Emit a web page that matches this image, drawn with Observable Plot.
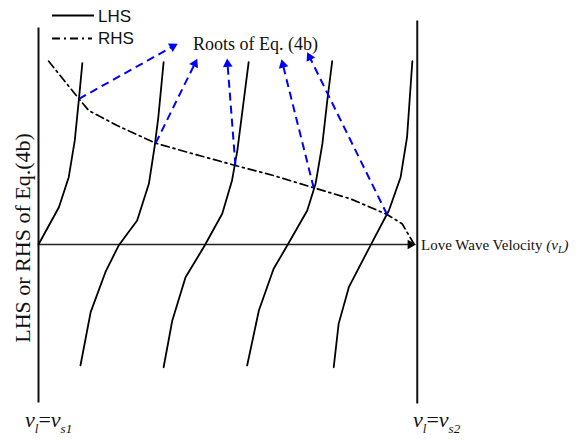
<!DOCTYPE html>
<html><head><meta charset="utf-8">
<script src="https://cdn.jsdelivr.net/npm/d3@7"></script>
<script src="https://cdn.jsdelivr.net/npm/@observablehq/plot@0.6"></script>
<style>body{margin:0;background:#fff} #chart{width:583px;height:440px}</style>
</head><body><div id="chart"></div>
<script>
// x: 0 = v_s1, 100 = v_s2 ; y: arbitrary units, 0 on the velocity axis
const lhs1X = [0, 5.4, 8.0, 9.6, 10.7, 11.6];
const lhs1Y = [0, 20.7, 37.4, 57.8, 80.9, 100.7];
const lhs2X = [11.1, 13.8, 17.7, 21.2, 26.1, 29.2, 30.7, 31.7, 33.1];
const lhs2Y = [-67.2, -37.6, -15.4, -0.6, 13.3, 33.7, 54.1, 70.7, 101.3];
const lhs3X = [33.1, 35.4, 38.9, 43.7, 48.6, 51.2, 52.6, 54.3, 55.6];
const lhs3Y = [-68.2, -42.2, -18.2, -1.5, 17.1, 35.6, 52.2, 80, 101.3];
const lhs4X = [55.2, 58.3, 62.2, 65.8, 71.1, 73.3, 75.1, 76.4, 77.7];
const lhs4Y = [-67.2, -36.7, -13.5, -0.6, 18.9, 33.7, 55.9, 80, 101.8];
const lhs5X = [78.1, 79.4, 82.1, 87.8, 92.7, 95.8, 97.5, 98.9];
const lhs5Y = [-68.2, -44.1, -23.7, -0.6, 18.9, 37.4, 59.6, 101.8];
const rhsX = [2.7, 10.7, 13.3, 20.8, 31.0, 39.3, 52.1, 62.2, 72.8, 82.5, 92.2, 96.2, 99.3];
const rhsY = [101.8, 80.9, 74.4, 66.1, 56.3, 51.3, 43.9, 38.3, 31.5, 25.4, 16.7, 11.5, 0.4];
// roots (intersections) and where their pointer arrows end
const rootX = [10.7, 31.0, 52.1, 72.8, 92.2];
const rootY = [80.9, 56.3, 43.9, 31.5, 16.7];
const tipX = [36.8, 42.0, 49.9, 64.3, 71.1];
const tipY = [111.5, 103.2, 103.3, 102.8, 106.8];
// bounding velocity lines v_l = v_s1 and v_l = v_s2
const boundX = [0, 100.2];
const boundTop = [120.6, 124.4];
const boundBottom = [-87.8, -88.3];
const axisEnd = 100;

const X0 = 38, X1 = 416, Y0 = 424, Y1 = 64;
const kx = (X1 - X0) / 100, ky = (Y0 - Y1) / 200;

const lhs = [[lhs1X, lhs1Y], [lhs2X, lhs2Y], [lhs3X, lhs3Y], [lhs4X, lhs4Y], [lhs5X, lhs5Y]]
  .flatMap(([xs, ys], k) => xs.map((x, i) => ({k, x, y: ys[i]})));
const rhs = rhsX.map((x, i) => ({x, y: rhsY[i]}));
const arrows = rootX.map((x, i) => {
  const dx = (tipX[i] - x) * kx, dy = -(tipY[i] - rootY[i]) * ky;
  const len = Math.hypot(dx, dy), back = 5.5;
  return {
    x1: x, y1: rootY[i], x2: tipX[i], y2: tipY[i],
    hx: tipX[i] - back * dx / len / kx, hy: tipY[i] + back * dy / len / ky,
    rot: Math.atan2(dx, -dy) * 180 / Math.PI
  };
});
const bounds = boundX.map((x, i) => ({x, t: boundTop[i], b: boundBottom[i]}));

const plot = Plot.plot({
  width: 583, height: 440, margin: 0,
  x: {domain: [0, 100], range: [X0, X1], axis: null},
  y: {domain: [-100, 100], range: [Y0, Y1], axis: null},
  marks: [
    Plot.link(bounds, {x1: "x", x2: "x", y1: "b", y2: "t", stroke: "#111", strokeWidth: 2}),
    Plot.link([{a: 0, b: axisEnd - 2}], {x1: "a", x2: "b", y1: 0, y2: 0, stroke: "#222", strokeWidth: 1.6}),
    Plot.dot([{x: axisEnd - 1.6}], {x: "x", y: 0, symbol: "triangle", r: 3.6, rotate: 90, fill: "#000", stroke: "none"}),
    Plot.line(lhs, {x: "x", y: "y", z: "k", stroke: "#000", strokeWidth: 1.8, curve: "linear"}),
    Plot.line(rhs, {x: "x", y: "y", stroke: "#000", strokeWidth: 1.7, strokeDasharray: "8,4,2,4"}),
    Plot.link(arrows, {x1: "x1", y1: "y1", x2: "hx", y2: "hy", stroke: "#0000ff", strokeWidth: 2, strokeDasharray: "8,5"}),
    Plot.dot(arrows, {x: "hx", y: "hy", rotate: "rot", symbol: "triangle", r: 3.6, fill: "#0000ff", stroke: "none"})
  ]
});
document.getElementById("chart").appendChild(plot);

const svg = d3.select(plot);
const serif = "'Liberation Serif','Times New Roman',serif";
const sans = "'Liberation Sans',Arial,sans-serif";
const g = svg.append("g").attr("text-anchor", "start").attr("fill", "#111");
// legend
g.append("line").attr("x1", 52).attr("x2", 94).attr("y1", 15.5).attr("y2", 15.5).attr("stroke", "#000").attr("stroke-width", 2);
g.append("line").attr("x1", 52).attr("x2", 92).attr("y1", 38.5).attr("y2", 38.5).attr("stroke", "#000").attr("stroke-width", 2).attr("stroke-dasharray", "8,4,2,4");
g.append("text").attr("x", 98).attr("y", 21.5).attr("font-family", sans).attr("font-size", 17).text("LHS");
g.append("text").attr("x", 98).attr("y", 44).attr("font-family", sans).attr("font-size", 17).text("RHS");
// annotations
g.append("text").attr("x", 193).attr("y", 50).attr("font-family", serif).attr("font-size", 18).text("Roots of Eq. (4b)");
g.append("text").attr("transform", "translate(30,238) rotate(-90)").attr("text-anchor", "middle")
  .attr("font-family", serif).attr("font-size", 22).text("LHS or RHS of Eq.(4b)");
const lw = g.append("text").attr("x", 421).attr("y", 250).attr("font-family", serif).attr("font-size", 15);
lw.append("tspan").text("Love Wave Velocity ");
lw.append("tspan").attr("font-style", "italic").text("(v");
lw.append("tspan").attr("font-style", "italic").attr("font-size", 10).attr("dy", 3).text("L");
lw.append("tspan").attr("font-style", "italic").attr("dy", -3).text(")");
function vlabel(x, sub) {
  const t = g.append("text").attr("x", x).attr("y", 427).attr("font-family", serif).attr("font-size", 22).attr("font-style", "italic");
  t.append("tspan").text("v");
  t.append("tspan").attr("font-size", 13).attr("dy", 6).text("l");
  t.append("tspan").attr("dy", -6).attr("font-style", "normal").text("=");
  t.append("tspan").text("v");
  t.append("tspan").attr("font-size", 13).attr("dy", 6).text(sub);
}
vlabel(25, "s1");
vlabel(413, "s2");
</script>
</body></html>
